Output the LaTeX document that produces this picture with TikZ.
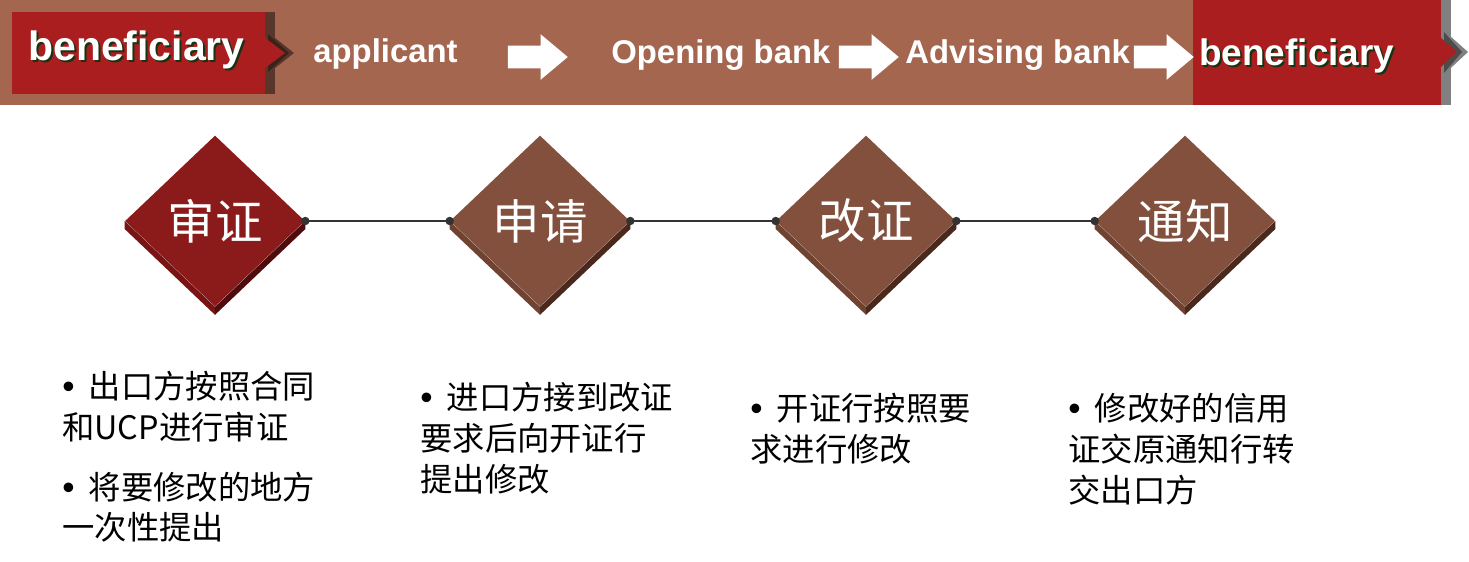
\documentclass[tikz,border=0pt]{standalone}
\usepackage{fontspec}
\setmainfont{Liberation Sans}
\newfontfamily\cjk{Noto Sans CJK SC}
\usepackage{tikz}
\usetikzlibrary{shapes.geometric,shapes.arrows,calc}
\definecolor{bandbrown}{RGB}{165,102,80}
\definecolor{boxred}{RGB}{171,30,31}
\definecolor{stripdark}{RGB}{88,54,43}
\definecolor{chevdark}{RGB}{60,34,25}
\definecolor{shadowgreen}{RGB}{22,52,18}
\definecolor{stepred}{RGB}{139,26,26}
\definecolor{stepredside}{RGB}{120,20,20}
\definecolor{stepreddark}{RGB}{80,12,12}
\definecolor{stepbrown}{RGB}{130,80,61}
\definecolor{stepbrownside}{RGB}{112,66,50}
\definecolor{stepbrowndark}{RGB}{74,40,28}
\definecolor{linkgray}{RGB}{51,51,51}
\newcommand\bul{{\rmfamily\fontsize{20}{23.2}\selectfont •}\hspace{8pt}}

\begin{document}
\begin{tikzpicture}[x=0.02cm,y=-0.02cm,
  hdtext/.style={anchor=base west,inner sep=0,text=white,font=\bfseries\fontsize{18.7}{20}\selectfont},
  hdshadow/.style={anchor=base west,inner sep=0,text=shadowgreen},
  blockarrow/.style={single arrow,fill=white,draw=none,minimum height=1.2cm,
    inner xsep=0,inner ysep=0.22cm,single arrow head extend=0.23cm,single arrow tip angle=80},
  stepnode/.style={shape=diamond,minimum width=3.6cm,minimum height=3.42cm,inner sep=0,
    text=white,font=\cjk\fontsize{27}{30}\selectfont},
  bullettext/.style={anchor=north west,inner sep=0,align=left,font=\cjk\fontsize{18.4}{23.2}\selectfont},
  link/.style={linkgray,line width=1.2pt},
  linkdot/.style={fill=linkgray}]
\useasboundingbox (0,0) rectangle (1469,561);

% header band
\fill[bandbrown] (0,0) rectangle (1193,105);
\fill[boxred] (1193,0) rectangle (1441,105);
\fill[gray] (1441,0) rectangle (1451,105);
\fill[gray] (1441,28)--(1468,52)--(1441,77)--cycle;
\fill[black!70] (1444,32)--(1462,52)--(1444,73)--cycle;
\fill[boxred] (1441,38)--(1457,52)--(1441,67)--cycle;
% left label box
\fill[boxred] (12,12) rectangle (265,94);
\fill[stripdark] (265,12) rectangle (275,94);
\fill[stripdark] (265,30)--(294,53)--(265,76)--cycle;
\fill[chevdark] (268,34)--(289,53)--(268,72)--cycle;
\fill[boxred] (265,38)--(285,53)--(265,68)--cycle;

\node[hdshadow,font=\bfseries\fontsize{23.3}{25}\selectfont] (ben1s) at (30,62) {beneficiary};
\node[hdtext,font=\bfseries\fontsize{23.3}{25}\selectfont] (ben1) at (28,60) {beneficiary};
\node[hdtext] (app) at (313,62) {applicant};
\node[blockarrow] (arr1) at (531,57) {};
\node[hdtext] (open) at (611,63) {Opening bank};
\node[blockarrow] (arr2) at (862,57) {};
\node[hdtext] (adv) at (905,63) {Advising bank};
\node[blockarrow] (arr3) at (1157,57) {};
\node[hdshadow,font=\bfseries\fontsize{21}{23}\selectfont] (ben2s) at (1201,67) {beneficiary};
\node[hdtext,font=\bfseries\fontsize{21}{23}\selectfont] (ben2) at (1199,65) {beneficiary};

% steps
\node[stepnode,fill=stepred] (s1) at (215,221) {审证};
\node[stepnode,fill=stepbrown] (s2) at (540,221) {申请};
\node[stepnode,fill=stepbrown] (s3) at (866,221) {改证};
\node[stepnode,fill=stepbrown] (s4) at (1185,221) {通知};
\fill[stepredside] (s1.west)--(s1.south)--($(s1.south)+(0,8)$)--($(s1.west)+(0,8)$)--cycle;
\fill[stepreddark] (s1.south)--(s1.east)--($(s1.east)+(0,8)$)--($(s1.south)+(0,8)$)--cycle;
\foreach \s in {s2,s3,s4}{
  \fill[stepbrownside] (\s.west)--(\s.south)--($(\s.south)+(0,8)$)--($(\s.west)+(0,8)$)--cycle;
  \fill[stepbrowndark] (\s.south)--(\s.east)--($(\s.east)+(0,8)$)--($(\s.south)+(0,8)$)--cycle;
}
\foreach \a/\b in {s1/s2,s2/s3,s3/s4}{
  \draw[link] (\a.east)--(\b.west);
  \fill[linkdot] (\a.east) circle[radius=2.4pt] (\b.west) circle[radius=2.4pt];
}

% notes
\node[bullettext] (n1) at (62,371) {\bul 出口方按照合同\\和UCP进行审证\\[10.8pt]\bul 将要修改的地方\\一次性提出};
\node[bullettext] (n2) at (420,382) {\bul 进口方接到改证\\要求后向开证行\\提出修改};
\node[bullettext] (n3) at (750,393) {\bul 开证行按照要\\求进行修改};
\node[bullettext] (n4) at (1068,393) {\bul 修改好的信用\\证交原通知行转\\交出口方};
\end{tikzpicture}
\end{document}
